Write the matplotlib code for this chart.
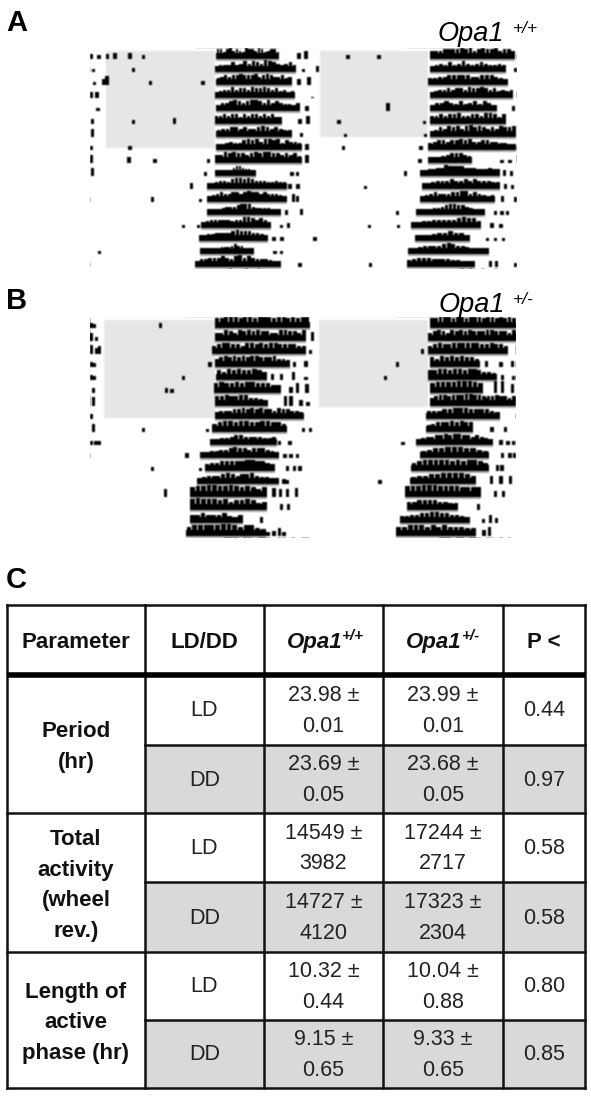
import matplotlib
matplotlib.use("Agg")
import matplotlib.pyplot as plt
import numpy as np
from matplotlib.patches import Rectangle

plt.rcParams['font.family'] = ['Liberation Sans', 'DejaVu Sans']

W, H = 591, 1097
HOUR_MAX = 48

# onset, offset of the main activity bout per day (hours), double plotted
a_left_bouts = [(14.2, 21.3), (14.0, 23.2), (14.2, 22.7), (14.0, 23.0), (14.2, 23.6), (14.0, 21.6),
                (14.2, 22.7), (14.2, 23.8), (14.0, 23.8), (14.0, 18.7), (13.1, 22.1), (13.2, 22.1),
                (13.1, 21.5), (12.5, 20.4), (12.2, 20.0), (12.4, 18.4), (11.8, 21.5)]
a_right_bouts = [(38.2, 47.8), (38.2, 46.8), (38.0, 47.0), (38.2, 47.6), (38.2, 45.7), (38.2, 46.8),
                 (38.2, 47.9), (38.0, 47.9), (38.0, 42.9), (37.1, 46.1), (37.3, 46.1), (37.1, 45.5),
                 (36.7, 44.4), (36.1, 44.0), (36.5, 42.7), (35.8, 44.8), (35.6, 43.3)]
b_left_bouts = [(14.0, 24.7), (14.0, 24.3), (13.7, 24.3), (14.0, 22.5), (14.2, 19.9), (13.9, 21.5),
                (14.0, 20.0), (14.0, 24.0), (13.7, 22.1), (13.5, 21.0), (12.4, 21.3), (12.9, 20.8),
                (12.0, 21.2), (11.2, 19.9), (11.2, 19.9), (11.2, 17.2), (10.8, 19.8)]
b_right_bouts = [(38.2, 47.9), (38.0, 47.9), (38.0, 47.0), (38.2, 43.8), (38.0, 45.7), (38.2, 44.2),
                 (38.2, 47.9), (37.8, 46.1), (37.8, 43.1), (36.7, 45.3), (37.1, 44.8), (36.1, 44.8),
                 (36.0, 43.4), (35.4, 44.0), (35.6, 41.4), (34.8, 42.7), (34.4, 43.4)]

# activity height along each bout, one digit per bin
a_left_heights = ["77578676587768756775", "45557568687698765675", "56767787778678766756", "45668677687787675645",
                  "46678767887686765546", "66767757677676755", "56677676678767655", "44565578786887857665",
                  "66878776787887767675", "33334467765543", "44566578878766655655", "45676677678776766654",
                  "33445666788865555443", "45666665668876764", "34556666787776654", "2233345556766443",
                  "46677787689787666543"]
a_right_heights = ["66677778786787786776", "45657568656765565", "55667777766777654", "45667677687787675656",
                   "46676575675764", "66767786677688757", "45768786897876768778", "56776778786677665544",
                   "3345677765", "44556687777666555655", "44566676676766655", "45676667788676545",
                   "33445567887765432", "44556666678775", "2345667664", "34566667876654332",
                   "56777666655443"]
b_left_heights = ["77888788788878878788", "66876878787766887768", "67887768878788777766", "67878787887778665",
                  "7687877876", "7877878877766", "77877886654", "56667787878776877665",
                  "67887887788776", "33556776666556", "34556678776777654", "56677777887765",
                  "45666787677865543", "78899889878767", "89888786778756", "6676667546", "78888899878865"]
b_right_heights = ["77888788788878878787", "67876878787778877768", "67877888888778776", "7687878776",
                   "77887887887665", "7888899987", "67887888998876787767", "66677888777765",
                   "5677787877", "45667787887767654", "56778887765", "67888887878876", "56677888876",
                   "88899988887777", "6677776655", "55667788776654", "77888787877766"]

# isolated activity away from the main bout: day, hour, height
a_left_spots = [(0, 0.2, 4), (0, 1.0, 3), (0, 2.0, 4), (0, 2.8, 5), (0, 4.5, 5), (0, 6.0, 3), (0, 23.5, 5), (0, 24.3, 6),
                (1, 0.4, 2), (1, 4.9, 3), (1, 24.0, 2), (1, 25.6, 5), (2, 0.5, 2), (2, 1.5, 5), (2, 1.9, 7), (2, 6.8, 3), (2, 12.7, 3), (2, 23.5, 5), (2, 24.6, 6),
                (3, 0.2, 5), (3, 0.8, 5), (3, 25.0, 1), (4, 0.9, 2), (4, 24.4, 4), (5, 0.3, 4), (5, 4.9, 3), (5, 9.5, 5), (5, 23.6, 4), (5, 24.5, 6),
                (6, 0.3, 6), (6, 23.8, 3), (7, 0.1, 3), (7, 4.5, 3), (7, 24.4, 5), (8, 0.2, 6), (8, 4.4, 5), (8, 7.3, 3), (8, 13.3, 3), (8, 23.5, 5), (8, 24.4, 6),
                (9, 0.3, 6), (9, 13.0, 3), (9, 22.7, 3), (9, 23.3, 3), (10, 11.4, 5), (10, 22.5, 4), (10, 23.4, 4),
                (11, 7.0, 4), (11, 12.4, 2), (11, 22.9, 6), (11, 23.3, 5), (12, 22.1, 4), (12, 23.8, 5),
                (13, 10.5, 2), (13, 12.2, 2), (13, 21.5, 2), (13, 22.3, 4), (14, 20.7, 3), (14, 21.6, 3), (14, 25.3, 3),
                (15, 1.1, 2), (15, 20.8, 2), (15, 21.5, 2), (16, 23.6, 3)]
a_right_spots = [(0, 29.0, 3), (0, 32.5, 3), (1, 47.9, 3), (3, 47.0, 2), (4, 33.5, 6), (4, 47.6, 4), (5, 28.0, 3), (5, 37.6, 2),
                 (6, 28.7, 2), (6, 37.7, 2), (7, 28.5, 3), (7, 37.2, 3), (8, 37.1, 3), (8, 46.3, 2), (8, 47.2, 2),
                 (9, 35.5, 4), (9, 46.6, 5), (9, 47.4, 4), (10, 31.0, 2), (10, 46.7, 4), (10, 47.5, 3), (11, 46.4, 5), (11, 47.8, 4),
                 (12, 34.6, 3), (12, 45.6, 3), (12, 46.3, 3), (12, 46.9, 3), (13, 31.4, 2), (13, 34.7, 2), (13, 45.2, 4), (13, 46.2, 3),
                 (14, 44.7, 2), (14, 45.6, 2), (14, 46.5, 2), (16, 31.5, 3), (16, 45.0, 5), (16, 45.7, 5), (16, 47.9, 3)]
b_left_spots = [(0, 0.1, 4), (0, 0.5, 3), (0, 7.9, 4), (1, 0.2, 6), (1, 0.7, 3), (1, 25.0, 7), (2, 0.1, 7), (2, 0.8, 5), (2, 1.1, 6), (2, 24.8, 3),
                (3, 0.1, 4), (3, 0.5, 3), (3, 13.5, 4), (3, 23.0, 4), (3, 24.3, 5), (4, 0.2, 4), (4, 0.5, 3), (4, 10.5, 3), (4, 20.5, 5), (4, 21.5, 5), (4, 22.9, 6), (4, 24.3, 2),
                (5, 0.4, 4), (5, 8.6, 4), (5, 9.2, 3), (5, 22.6, 5), (5, 23.3, 8), (5, 24.4, 7), (6, 0.4, 7), (6, 22.0, 8), (6, 22.6, 8), (6, 23.7, 5), (6, 24.5, 3),
                (7, 0.2, 4), (8, 0.4, 6), (8, 6.0, 3), (8, 13.2, 2), (8, 24.0, 3), (8, 24.8, 3), (9, 0.1, 3), (9, 0.6, 3), (9, 1.0, 3), (9, 21.3, 3), (9, 22.5, 3),
                (10, 10.9, 4), (10, 21.9, 3), (10, 22.6, 3), (10, 23.3, 3), (11, 7.0, 3), (11, 12.4, 2), (11, 22.2, 4), (11, 23.0, 4), (11, 23.6, 4),
                (12, 21.8, 4), (12, 22.2, 3), (13, 8.5, 6), (13, 20.7, 7), (13, 21.4, 6), (13, 22.2, 6), (13, 23.2, 7), (14, 21.5, 5), (14, 22.3, 5), (15, 19.3, 5),
                (16, 20.0, 3), (16, 20.7, 4), (16, 21.3, 6), (16, 21.8, 3)]
b_right_spots = [(2, 37.4, 4), (3, 34.6, 4), (4, 33.2, 3), (3, 44.6, 5), (3, 46.2, 4), (3, 47.5, 5), (4, 46.4, 4), (4, 47.6, 3),
                 (5, 45.6, 9), (5, 46.4, 9), (5, 47.5, 7), (6, 44.8, 8), (8, 45.2, 4), (8, 46.7, 4), (9, 35.2, 2), (9, 46.2, 4), (9, 47.0, 3), (9, 47.6, 3),
                 (10, 46.4, 4), (10, 47.2, 4), (10, 47.7, 4), (11, 45.8, 5), (11, 46.3, 5), (12, 32.6, 3), (12, 45.1, 6), (12, 46.2, 6), (12, 47.3, 6),
                 (13, 45.6, 5), (13, 46.5, 5), (14, 43.7, 5), (15, 44.2, 3), (15, 45.0, 6), (15, 45.7, 4), (16, 44.3, 5), (16, 44.9, 7)]

# light phase shading: first hour, last hour, last day
a_shade = [(1.8, 14.0, 6.85), (25.8, 38.0, 6.0)]
b_shade = [(1.6, 14.0, 6.9), (25.7, 38.0, 6.05)]

# table
col_edges = [7, 145, 264, 383, 503, 585]
row_edges = [605, 675, 745, 813, 882, 952, 1020, 1088]
header = ["Parameter", "LD/DD", "Opa1", "Opa1", "P <"]
header_super = ["+/+", "+/-"]
parameters = ["Period\n(hr)", "Total\nactivity\n(wheel\nrev.)", "Length of\nactive\nphase (hr)"]
conditions = ["LD", "DD", "LD", "DD", "LD", "DD"]
wt_values = ["23.98 ±\n0.01", "23.69 ±\n0.05", "14549 ±\n3982", "14727 ±\n4120", "10.32 ±\n0.44", "9.15 ±\n0.65"]
het_values = ["23.99 ±\n0.01", "23.68 ±\n0.05", "17244 ±\n2717", "17323 ±\n2304", "10.04 ±\n0.88", "9.33 ±\n0.65"]
p_values = ["0.44", "0.97", "0.58", "0.58", "0.80", "0.85"]


def softenScan(image, dpi):
    # the actograms are low resolution scans, so flatten on white and smooth a little
    alpha = image[:, :, 3:4]
    flat = image[:, :, :3] * alpha + (1 - alpha)
    for axis in [0, 1]:
        flat = (np.roll(flat, 1, axis) + 2 * flat + np.roll(flat, -1, axis)) / 4
    out = np.ones(image.shape)
    out[:, :, :3] = np.clip(flat, 0, 1)
    return out, 0, 0


def drawBouts(ax, bouts, heights):
    for day in range(len(bouts)):
        start, end = bouts[day]
        levels = [int(c) for c in heights[day]]
        dx = (end - start) / len(levels)
        xs = [start + dx * (i + 0.5) for i in range(len(levels))]
        ax.bar(xs, [-v * 0.105 for v in levels], width=dx * 0.85, bottom=day, color="black", linewidth=0)
        ax.bar((start + end) / 2, -0.5, width=end - start, bottom=day, color="black", linewidth=0)
        ax.bar((start + end) / 2, 0.14, width=end - start, bottom=day, color="#a8a8a8", linewidth=0)


def drawActogram(rect_top, shade, left_bouts, left_heights, right_bouts, right_heights, spots):
    ax = fig.add_axes([90 / W, 1 - (rect_top + 226) / H, 427 / W, 226 / H])
    ax.set_xlim(0, HOUR_MAX)
    ax.set_ylim(16.38, -1)
    ax.axis("off")
    for first, last, last_day in shade:
        ax.add_patch(Rectangle((first, -0.62), last - first, last_day + 0.62, color="#e6e6e6", linewidth=0))
    drawBouts(ax, left_bouts, left_heights)
    drawBouts(ax, right_bouts, right_heights)
    for day, hour, size in spots:
        ax.bar(hour, -size * 0.1, width=0.38, bottom=day, color="black", linewidth=0)
    ax.set_agg_filter(softenScan)


fig = plt.figure(figsize=(W / 100, H / 100), dpi=100)
drawActogram(46, a_shade, a_left_bouts, a_left_heights, a_right_bouts, a_right_heights, a_left_spots + a_right_spots)
drawActogram(315, b_shade, b_left_bouts, b_left_heights, b_right_bouts, b_right_heights, b_left_spots + b_right_spots)

# page layer in picture pixels, for panel letters and the table
page = fig.add_axes([0, 0, 1, 1])
page.set_xlim(0, W)
page.set_ylim(H, 0)
page.axis("off")
page.patch.set_alpha(0)

page.text(6, 31, "A", fontsize=21, fontweight="bold", va="baseline")
page.text(6, 309, "B", fontsize=21, fontweight="bold", va="baseline")
page.text(6, 588, "C", fontsize=21, fontweight="bold", va="baseline")

page.text(438, 41, "Opa1", fontsize=19.5, style="italic", va="baseline")
page.text(513, 33, "+/+", fontsize=12.5, style="italic", va="baseline")
page.text(439, 312, "Opa1", fontsize=19.5, style="italic", va="baseline")
page.text(513, 304, "+/-", fontsize=12.5, style="italic", va="baseline")

# grey DD rows
for r in [2, 4, 6]:
    page.add_patch(Rectangle((col_edges[1], row_edges[r]), col_edges[5] - col_edges[1],
                             row_edges[r + 1] - row_edges[r], color="#d9d9d9", linewidth=0))

# grid lines
for x in col_edges:
    page.plot([x, x], [row_edges[0], row_edges[-1]], color="#111111", lw=1.8, solid_capstyle="projecting")
for y in [row_edges[0], row_edges[-1]]:
    page.plot([col_edges[0], col_edges[-1]], [y, y], color="#111111", lw=1.8, solid_capstyle="projecting")
page.plot([col_edges[0], col_edges[-1]], [row_edges[1], row_edges[1]], color="black", lw=4, solid_capstyle="butt")
for y in [row_edges[3], row_edges[5]]:
    page.plot([col_edges[0], col_edges[-1]], [y, y], color="#111111", lw=1.8)
for y in [row_edges[2], row_edges[4], row_edges[6]]:
    page.plot([col_edges[1], col_edges[-1]], [y, y], color="#111111", lw=1.8)

# header row
header_base = 648
for c in [0, 1, 4]:
    page.text((col_edges[c] + col_edges[c + 1]) / 2, header_base, header[c], fontsize=16,
              fontweight="bold", ha="center", va="baseline", color="#111111")
for c in [2, 3]:
    mid = (col_edges[c] + col_edges[c + 1]) / 2
    page.text(mid - 37, header_base, header[c], fontsize=16, fontweight="bold", style="italic", va="baseline", color="#111111")
    page.text(mid + 18, header_base - 8, header_super[c - 2], fontsize=11, fontweight="bold", style="italic", va="baseline", color="#111111")

# body
for i in range(len(parameters)):
    y_mid = (row_edges[1 + 2 * i] + row_edges[3 + 2 * i]) / 2
    page.text((col_edges[0] + col_edges[1]) / 2, y_mid + 3, parameters[i], fontsize=16, fontweight="bold",
              ha="center", va="center", linespacing=1.62, color="#111111")
for i in range(len(conditions)):
    y_mid = (row_edges[i + 1] + row_edges[i + 2]) / 2
    column_text = [conditions[i], wt_values[i], het_values[i], p_values[i]]
    for c in range(4):
        page.text((col_edges[c + 1] + col_edges[c + 2]) / 2, y_mid + 1, column_text[c], fontsize=15.5,
                  ha="center", va="center", linespacing=1.6, color="#222222")

fig.savefig("out.png", dpi=100)
